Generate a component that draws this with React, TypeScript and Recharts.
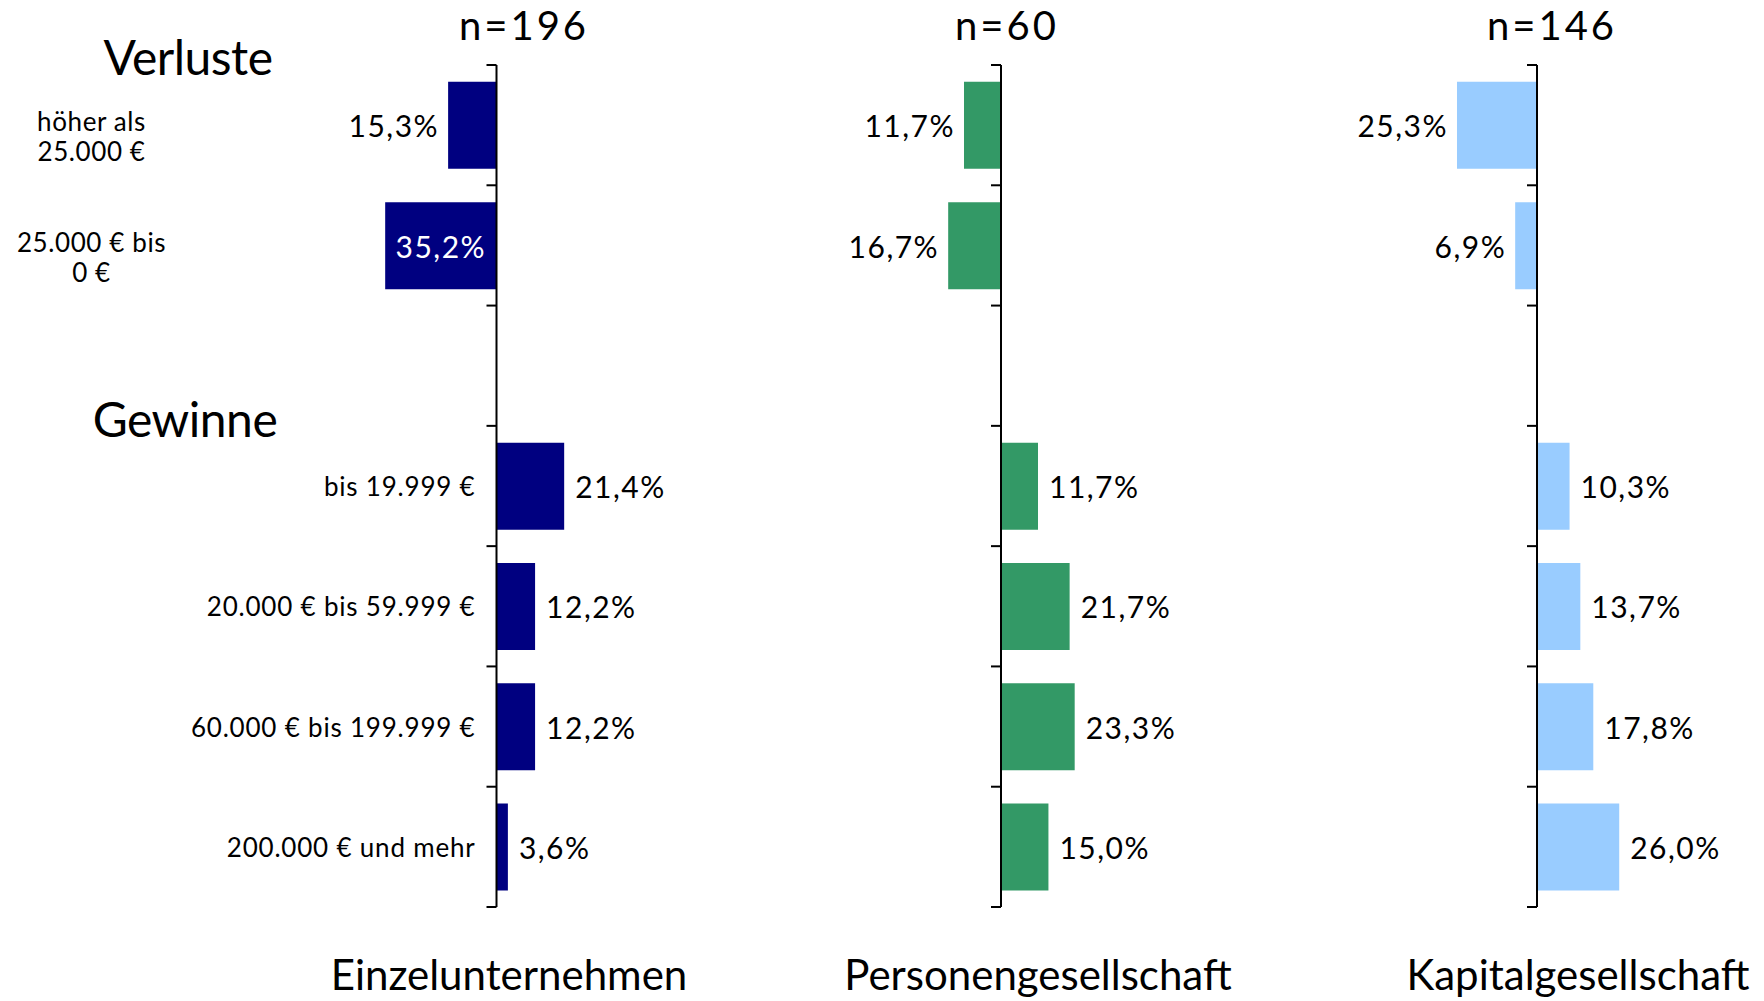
import { BarChart, Bar, XAxis, YAxis, ReferenceLine, LabelList } from 'recharts'

// Gewinn-/Verlustklassen; Verluste als negative Werte, Leerzeile zwischen den Blöcken = null
const categories = [
  'höher als\n25.000 €',
  '25.000 € bis\n0 €',
  '',
  'bis 19.999 €',
  '20.000 € bis 59.999 €',
  '60.000 € bis 199.999 €',
  '200.000 € und mehr',
]
const einzelunternehmen = [-15.3, -35.2, null, 21.4, 12.2, 12.2, 3.6]
const personengesellschaft = [-11.7, -16.7, null, 11.7, 21.7, 23.3, 15.0]
const kapitalgesellschaft = [-25.3, -6.9, null, 10.3, 13.7, 17.8, 26.0]
const panelNames = ['Einzelunternehmen', 'Personengesellschaft', 'Kapitalgesellschaft']
const sampleSizes = [196, 60, 146]
const sectionTitles = ['Verluste', 'Gewinne']

const SERIES = [einzelunternehmen, personengesellschaft, kapitalgesellschaft]
const COLORS = ['#000080', '#339966', '#99ccff']

const FONT = 'Lato, "Open Sans", sans-serif'
const W = 1764
const H = 1001
const PLOT_TOP = 65
const PLOT_BOTTOM = 907
const DOMAIN: [number, number] = [-40, 40]
const PLOT_W = 253
const TICK_LEN = 10

const LAYOUT = [
  { left: 0, width: 700, zeroX: 496.5, titleX: 509, nX: 524 },
  { left: 700, width: 500, zeroX: 1001, titleX: 1038, nX: 1007 },
  { left: 1200, width: 564, zeroX: 1537, titleX: 1578, nX: 1552 },
]

const fmtPct = (v: number) => `${Math.abs(v).toFixed(1).replace('.', ',')}%`

function barBox(props: any) {
  const vb = props.viewBox ?? props
  const x0 = Number(vb.x)
  const w = Number(vb.width)
  return {
    lo: Math.min(x0, x0 + w),
    hi: Math.max(x0, x0 + w),
    cy: Number(vb.y) + Number(vb.height) / 2,
  }
}

function ValueLabel(props: any) {
  const { value } = props
  if (value == null || value === '') return null
  const v = Number(value)
  const { lo, hi, cy } = barBox(props)
  const inside = v < 0 && Math.abs(v) >= 30
  const common = { dominantBaseline: 'central' as const, fontSize: 30, letterSpacing: 1.5, fontFamily: FONT }
  if (inside) {
    return <text x={(lo + hi) / 2} y={cy} textAnchor="middle" fill="#fff" {...common}>{fmtPct(v)}</text>
  }
  if (v < 0) {
    return <text x={lo - 9} y={cy} textAnchor="end" fill="#000" {...common}>{fmtPct(v)}</text>
  }
  return <text x={hi + 11} y={cy} textAnchor="start" fill="#000" {...common}>{fmtPct(v)}</text>
}

function CategoryLabel(props: any) {
  const label = String(props.value ?? '')
  if (!label) return null
  const i = categories.indexOf(label)
  const v = Number(einzelunternehmen[i])
  const { lo, hi, cy } = barBox(props)
  const zero = v < 0 ? hi : lo
  const lines = label.split('\n')
  if (lines.length > 1) {
    const cx = zero - 405
    return (
      <text textAnchor="middle" fill="#000" fontSize={26} letterSpacing={0.6} fontFamily={FONT}>
        <tspan x={cx} y={cy - 4} dominantBaseline="central">{lines[0]}</tspan>
        <tspan x={cx} y={cy + 26} dominantBaseline="central">{lines[1]}</tspan>
      </text>
    )
  }
  return (
    <text x={zero - 21} y={cy} textAnchor="end" dominantBaseline="central" fill="#000"
      fontSize={26} letterSpacing={0.8} fontFamily={FONT}>{label}</text>
  )
}

function Panel({ idx }: { idx: number }) {
  const l = LAYOUT[idx]
  const values = SERIES[idx]
  const data = categories.map((c, i) => ({ category: c, value: values[i], slot: i }))
  const marginLeft = l.zeroX - l.left - PLOT_W / 2
  const tickData = TICK_LEN * (DOMAIN[1] - DOMAIN[0]) / PLOT_W
  const ticks = Array.from({ length: categories.length + 1 }, (_, i) => i)

  return (
    <div style={{ position: 'absolute', left: l.left, top: 0 }}>
      <BarChart
        layout="vertical"
        width={l.width}
        height={H}
        data={data}
        margin={{ top: PLOT_TOP, bottom: H - PLOT_BOTTOM, left: marginLeft, right: l.width - marginLeft - PLOT_W }}
        barCategoryGap="14%"
      >
        <XAxis type="number" domain={DOMAIN} hide allowDataOverflow />
        <YAxis yAxisId="cat" type="category" dataKey="category" hide />
        <YAxis yAxisId="grid" type="number" dataKey="slot" domain={[0, categories.length]} reversed hide allowDataOverflow />
        <Bar yAxisId="cat" dataKey="value" fill={COLORS[idx]} isAnimationActive={false}>
          <LabelList dataKey="value" content={(p: any) => <ValueLabel {...p} />} />
          {idx === 0 && <LabelList dataKey="category" content={(p: any) => <CategoryLabel {...p} />} />}
        </Bar>
        <ReferenceLine yAxisId="cat" x={0} stroke="#000" strokeWidth={2} ifOverflow="visible" />
        {ticks.map((t) => (
          <ReferenceLine
            key={t}
            yAxisId="grid"
            segment={[{ x: -tickData, y: t }, { x: 0, y: t }]}
            stroke="#000"
            strokeWidth={2}
            ifOverflow="visible"
          />
        ))}
      </BarChart>
    </div>
  )
}

export default function App() {
  return (
    <div style={{ position: 'absolute', left: 0, top: 0, width: W, height: H, background: '#fff', fontFamily: FONT }}>
      {LAYOUT.map((_, i) => <Panel key={i} idx={i} />)}
      <svg width={W} height={H} style={{ position: 'absolute', left: 0, top: 0, pointerEvents: 'none' }}>
        {LAYOUT.map((l, i) => (
          <g key={i} fontFamily={FONT} fill="#000">
            <text x={l.nX} y={40} textAnchor="middle" fontSize={40} letterSpacing={3}>n={sampleSizes[i]}</text>
            <text x={l.titleX} y={990} textAnchor="middle" fontSize={42}>{panelNames[i]}</text>
          </g>
        ))}
        <text x={188} y={75} textAnchor="middle" fontSize={48} letterSpacing={-0.5} fontFamily={FONT}>{sectionTitles[0]}</text>
        <text x={185} y={437} textAnchor="middle" fontSize={48} letterSpacing={-0.5} fontFamily={FONT}>{sectionTitles[1]}</text>
      </svg>
    </div>
  )
}
